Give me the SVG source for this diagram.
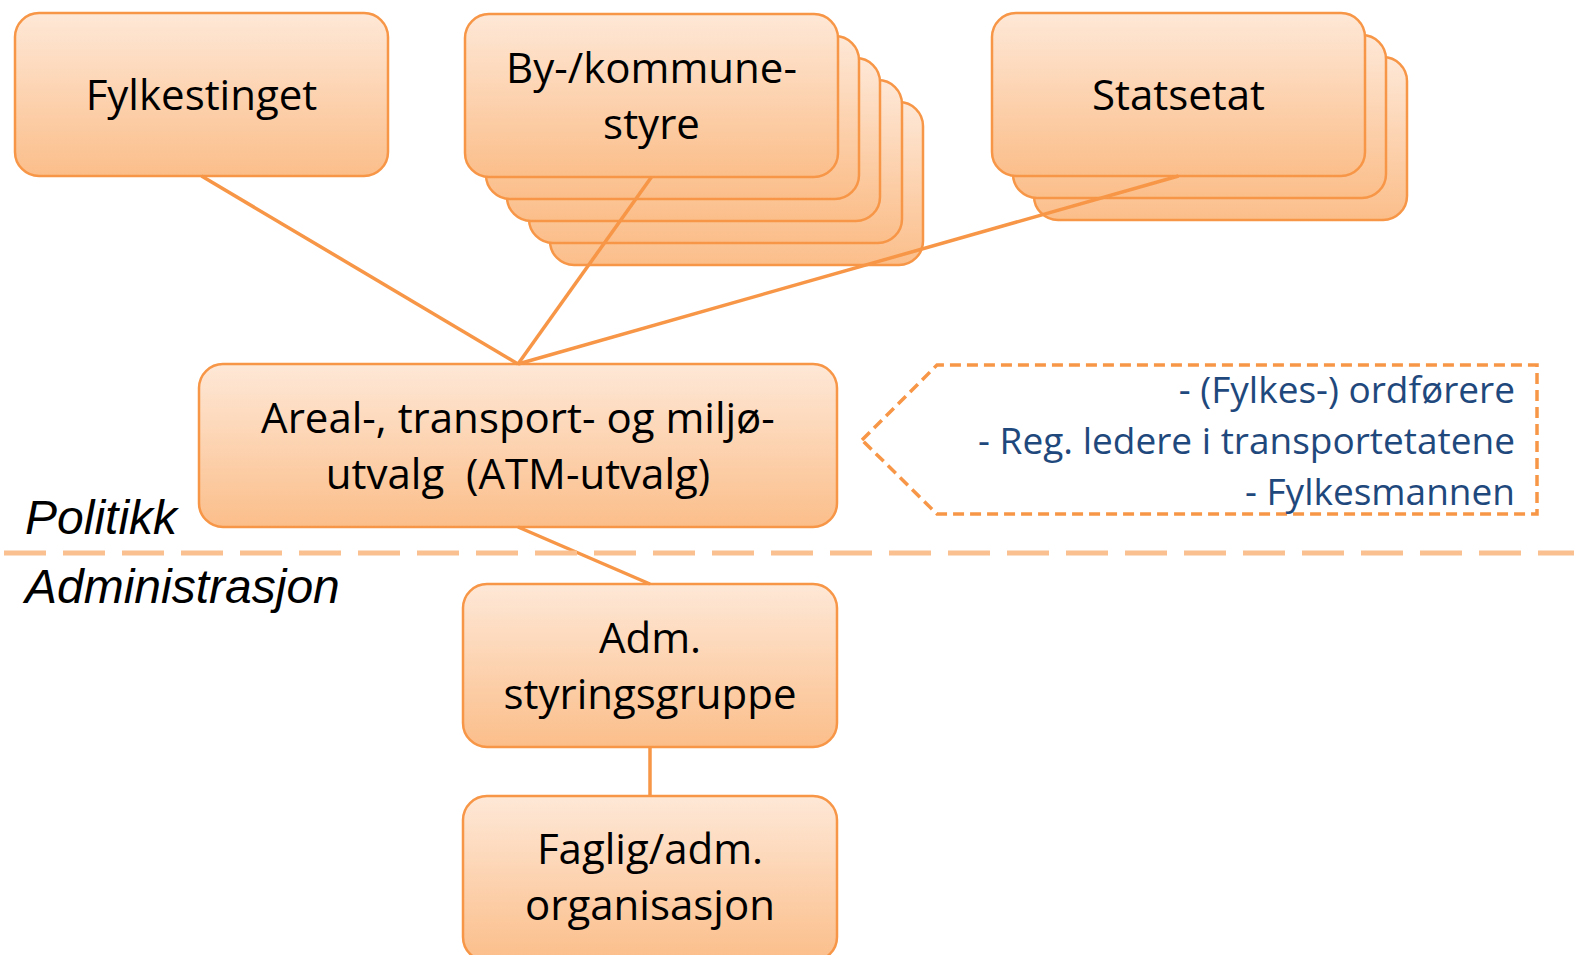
<svg xmlns="http://www.w3.org/2000/svg" width="1579" height="955" viewBox="0 0 1579 955">
<defs>
<linearGradient id="g" x1="0" y1="0" x2="0" y2="1">
<stop offset="0" stop-color="#FEE8D7"/>
<stop offset="1" stop-color="#FBBE8A"/>
</linearGradient>
<style>
.box{fill:url(#g);stroke:#F79646;stroke-width:2.5}
.t{font-family:"Open Sans","Liberation Sans",sans-serif;font-size:42px;fill:#000;text-anchor:middle}
.c{font-family:"Open Sans","Liberation Sans",sans-serif;font-size:37px;fill:#1F497D;text-anchor:end}
.lbl{font-family:"Liberation Sans",Arial,sans-serif;font-style:italic;font-size:48px;fill:#000}
.conn{stroke:#F79646;stroke-width:3.5;fill:none}
</style>
</defs>
<rect width="1579" height="955" fill="#fff"/>
<g id="fylkestinget">
<rect class="box" x="15" y="13" width="373" height="163" rx="24"/>
<text class="t" x="201.5" y="110">Fylkestinget</text>
</g>
<g id="kommunestyre">
<rect class="box" x="550" y="102" width="373" height="163" rx="24"/>
<rect class="box" x="529" y="80" width="373" height="163" rx="24"/>
<rect class="box" x="507" y="58" width="373" height="163" rx="24"/>
<rect class="box" x="486" y="36" width="373" height="163" rx="24"/>
<rect class="box" x="465" y="14" width="373" height="163" rx="24"/>
<text class="t" x="651.5" y="83">By-/kommune-</text>
<text class="t" x="651.5" y="139">styre</text>
</g>
<g id="statsetat">
<rect class="box" x="1034" y="57" width="373" height="163" rx="24"/>
<rect class="box" x="1013" y="35" width="373" height="163" rx="24"/>
<rect class="box" x="992" y="13" width="373" height="163" rx="24"/>
<text class="t" x="1178.5" y="110">Statsetat</text>
</g>
<g id="atm">
<rect class="box" x="199" y="364" width="638" height="163" rx="24"/>
<text class="t" x="518" y="433">Areal-, transport- og miljø-</text>
<text class="t" x="518" y="489" xml:space="preserve">utvalg  (ATM-utvalg)</text>
</g>
<g id="adm">
<rect class="box" x="463" y="584" width="374" height="163" rx="24"/>
<text class="t" x="650" y="653">Adm.</text>
<text class="t" x="650" y="709">styringsgruppe</text>
</g>
<g id="faglig">
<rect class="box" x="463" y="796" width="374" height="165" rx="24"/>
<text class="t" x="650" y="864">Faglig/adm.</text>
<text class="t" x="650" y="920">organisasjon</text>
</g>
<g id="connectors">
<line class="conn" x1="201.5" y1="176" x2="518" y2="364"/>
<line class="conn" x1="651.5" y1="177" x2="518" y2="364"/>
<line class="conn" x1="1178.5" y1="176" x2="518" y2="364"/>
<line class="conn" x1="518" y1="527" x2="650" y2="584"/>
<line class="conn" x1="650" y1="747" x2="650" y2="796"/>
</g>
<g id="callout">
<polygon points="862,440 937,365 1537,365 1537,514 937,514" fill="none" stroke="#F79646" stroke-width="3.5" stroke-dasharray="11 6"/>
<text class="c" x="1515" y="403">- (Fylkes-) ordførere</text>
<text class="c" x="1515" y="454">- Reg. ledere i transportetatene</text>
<text class="c" x="1515" y="505">- Fylkesmannen</text>
</g>
<g id="divider">
<line x1="4" y1="553" x2="1574" y2="553" stroke="#FAC090" stroke-width="5" stroke-dasharray="42 17"/>
<text class="lbl" x="25" y="534">Politikk</text>
<text class="lbl" x="25" y="603">Administrasjon</text>
</g>
</svg>
